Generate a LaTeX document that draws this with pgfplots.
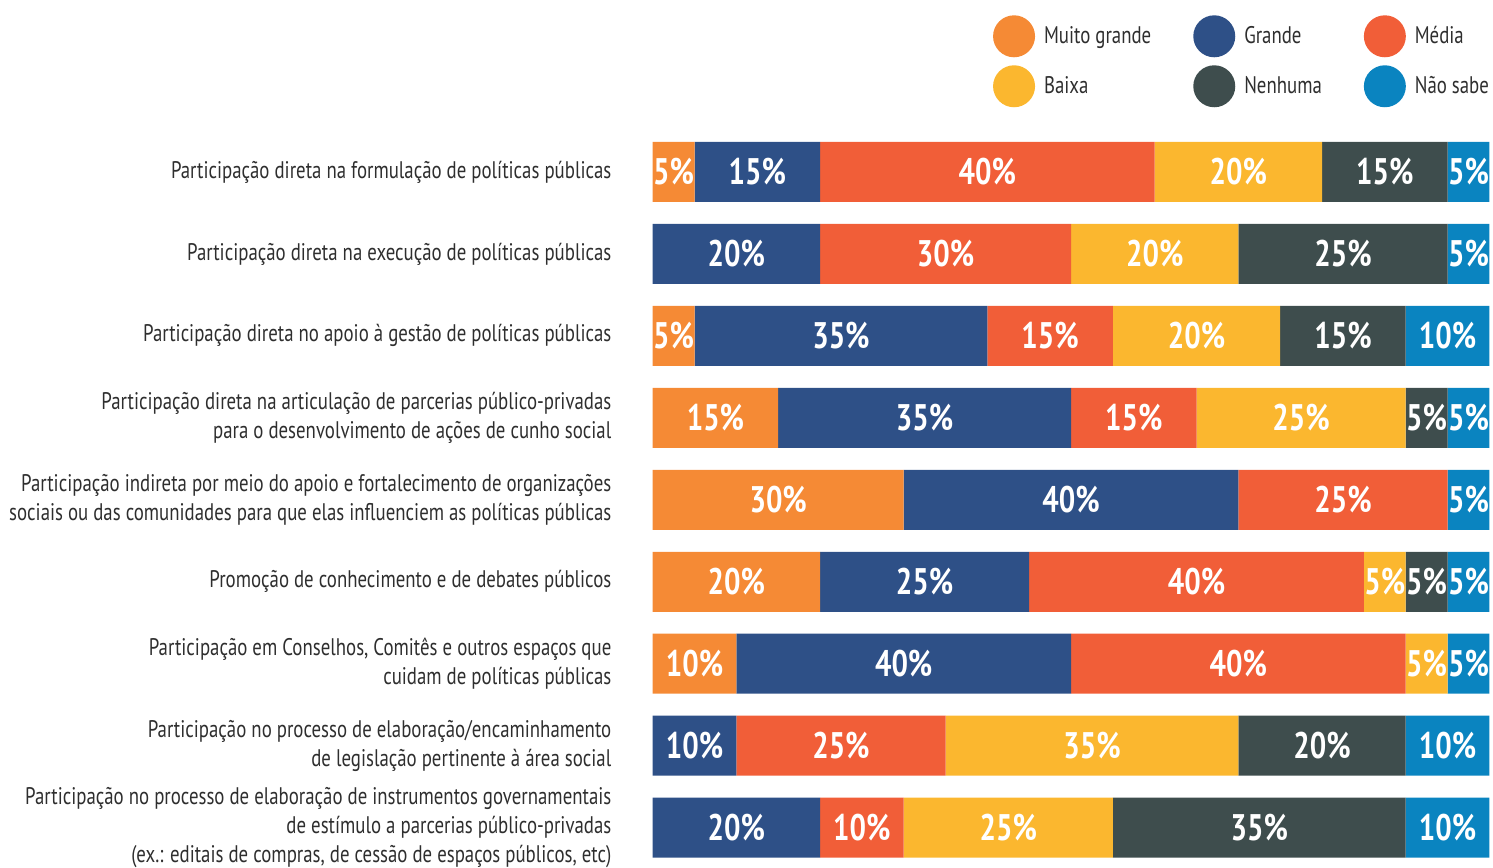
\documentclass[border=0pt]{standalone}
\usepackage{pgfplots}
\usepackage{pgfplotstable}
\pgfplotsset{compat=1.18}
\usepackage{fontspec}
\setmainfont{PT Sans}[FakeStretch=0.785]
\definecolor{cmg}{HTML}{F58A35}
\definecolor{cg}{HTML}{2E5087}
\definecolor{cm}{HTML}{F15E38}
\definecolor{cb}{HTML}{FBB72F}
\definecolor{cn}{HTML}{3E4D4D}
\definecolor{cns}{HTML}{0A84C0}
\definecolor{labtext}{HTML}{2E2E2E}
\pgfplotstableread{
y mg g m b n ns
0 5 15 40 20 15 5
1 0 20 30 20 25 5
2 5 35 15 20 15 10
3 15 35 15 25 5 5
4 30 40 25 0 0 5
5 20 25 40 5 5 5
6 10 40 40 5 0 5
7 0 10 25 35 20 10
8 0 20 10 25 35 10
}\data
\begin{document}
\begin{tikzpicture}
\begin{axis}[name=ax,
  scale only axis, width=418.5pt, height=358.3pt,
  xbar stacked, bar width=30pt,
  xmin=0, xmax=100, ymin=-0.37, ymax=8.37, y dir=reverse,
  hide x axis, axis y line*=left, y axis line style={draw=none},
  ytick={0,...,8}, ytick style={draw=none},
  yticklabels={
    {Participação direta na formulação de políticas públicas},
    {Participação direta na execução de políticas públicas},
    {Participação direta no apoio à gestão de políticas públicas},
    {Participação direta na articulação de parcerias público-privadas\\para o desenvolvimento de ações de cunho social},
    {Participação indireta por meio do apoio e fortalecimento de organizações\\sociais ou das comunidades para que elas influenciem as políticas públicas},
    {Promoção de conhecimento e de debates públicos},
    {Participação em Conselhos, Comitês e outros espaços que\\cuidam de políticas públicas},
    {Participação no processo de elaboração/encaminhamento\\de legislação pertinente à área social},
    {Participação no processo de elaboração de instrumentos governamentais\\de estímulo a parcerias público-privadas\\(ex.: editais de compras, de cessão de espaços públicos, etc)}
  },
  yticklabel style={align=right, font=\fontsize{12}{14.5}\selectfont, text=labtext, inner sep=0pt, xshift=-20.5pt},
  /pgf/number format/assume math mode=true,
  visualization depends on={rawx \as \rawx},
  nodes near coords={\ifdim\rawx pt>0.01pt \pgfmathprintnumber{\rawx}\%\fi},
  every node near coord/.append style={anchor=center, text=white, inner sep=0pt, font=\fontsize{18.5}{18.5}\selectfont\bfseries},
  legend columns=3,
  legend cell align=left,
  legend image code/.code={\fill[#1,draw=none] (10.5pt,0pt) circle (10.5pt);},
  legend style={draw=none, fill=none, inner sep=0pt, at={(1,1)}, anchor=south east, yshift=17pt, xshift=2pt,
    font=\fontsize{12}{14}\selectfont, text=labtext,
    /tikz/every odd column/.append style={column sep=2.5pt},
    /tikz/every even column/.append style={column sep=19pt},
    row sep=4pt},
]
\addplot[fill=cmg, draw=none] table[x=mg, y=y] {\data};
\addplot[fill=cg, draw=none] table[x=g, y=y] {\data};
\addplot[fill=cm, draw=none] table[x=m, y=y] {\data};
\addplot[fill=cb, draw=none] table[x=b, y=y] {\data};
\addplot[fill=cn, draw=none] table[x=n, y=y] {\data};
\addplot[fill=cns, draw=none] table[x=ns, y=y] {\data};
\legend{Muito grande, Grande, Média, Baixa, Nenhuma, Não sabe}
\end{axis}
\path ([xshift=-326.5pt,yshift=-4.85pt]ax.south west) rectangle ([xshift=1.5pt,yshift=70.85pt]ax.north east);
\end{tikzpicture}
\end{document}
